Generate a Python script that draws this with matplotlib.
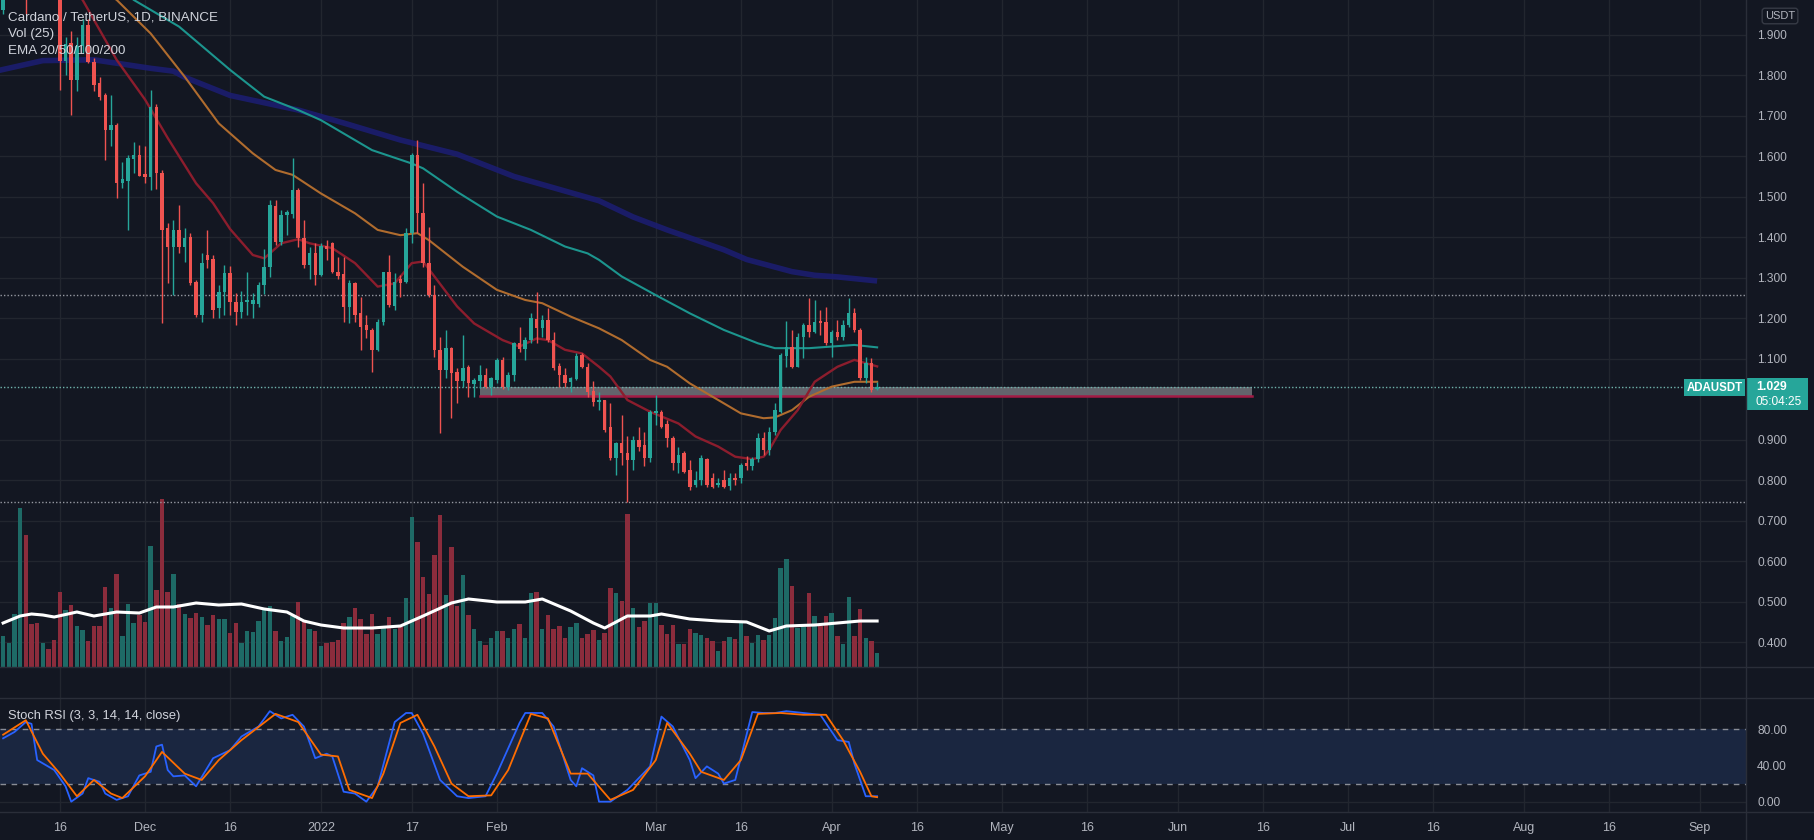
import numpy as np
import pandas as pd
import matplotlib
matplotlib.use("Agg")
import matplotlib.pyplot as plt
import matplotlib.dates as mdates
from matplotlib.patches import Rectangle
from matplotlib.lines import Line2D

plt.rcParams['font.family'] = ['Liberation Sans', 'DejaVu Sans']

# ---------------- data ----------------
first_day = '2021-11-06'
opens = [1.96, 2.00, 2.04, 2.18, 2.27, 2.06, 2.03, 2.00, 2.04, 2.02,
         2.00, 1.836, 1.879, 1.788, 1.871, 1.924, 1.833, 1.78, 1.751, 1.665,
         1.677, 1.533, 1.54, 1.592, 1.603, 1.556, 1.549, 1.722, 1.558, 1.422,
         1.377, 1.419, 1.377, 1.401, 1.29, 1.208, 1.356, 1.345, 1.224, 1.265,
         1.311, 1.241, 1.216, 1.240, 1.236, 1.236, 1.282, 1.327, 1.477, 1.389,
         1.455, 1.458, 1.517, 1.399, 1.331, 1.36, 1.307, 1.379, 1.386, 1.315,
         1.31, 1.228, 1.286, 1.212, 1.183, 1.171, 1.122, 1.191, 1.313, 1.23,
         1.296, 1.29, 1.41, 1.603, 1.459, 1.336, 1.257, 1.121, 1.072, 1.126,
         1.068, 1.044, 1.079, 1.037, 1.044, 1.06, 1.031, 1.048, 1.097, 1.031,
         1.06, 1.138, 1.123, 1.146, 1.197, 1.175, 1.196, 1.146, 1.081, 1.06,
         1.043, 1.049, 1.109, 1.08, 1.02, 0.994, 0.997, 0.932, 0.854, 0.891,
         0.868, 0.85, 0.899, 0.887, 0.854, 0.966, 0.969, 0.94, 0.903, 0.842,
         0.866, 0.825, 0.788, 0.80, 0.852, 0.805, 0.787, 0.80, 0.786, 0.805,
         0.805, 0.842, 0.834, 0.852, 0.903, 0.875, 0.92, 0.969, 1.107, 1.13,
         1.08, 1.154, 1.183, 1.167, 1.194, 1.191, 1.138, 1.167, 1.154, 1.183,
         1.212, 1.171, 1.052, 1.089, 1.025]
highs = [2.02, 2.06, 2.22, 2.30, 2.30, 2.10, 2.06, 2.06, 2.07, 2.08,
         2.03, 1.895, 1.908, 1.895, 1.94, 1.94, 1.842, 1.796, 1.755, 1.75,
         1.681, 1.586, 1.603, 1.636, 1.628, 1.624, 1.763, 1.73, 1.565, 1.434,
         1.442, 1.479, 1.422, 1.41, 1.294, 1.36, 1.418, 1.356, 1.282, 1.331,
         1.329, 1.261, 1.266, 1.315, 1.262, 1.29, 1.372, 1.492, 1.492, 1.466,
         1.466, 1.595, 1.521, 1.442, 1.377, 1.385, 1.385, 1.394, 1.389, 1.352,
         1.352, 1.294, 1.29, 1.253, 1.208, 1.175, 1.198, 1.315, 1.356, 1.311,
         1.307, 1.422, 1.607, 1.64, 1.533, 1.426, 1.282, 1.154, 1.171, 1.13,
         1.076, 1.159, 1.085, 1.052, 1.085, 1.076, 1.056, 1.101, 1.103, 1.066,
         1.142, 1.179, 1.154, 1.212, 1.265, 1.208, 1.224, 1.167, 1.089, 1.076,
         1.056, 1.113, 1.113, 1.089, 1.046, 1.018, 0.998, 0.99, 0.895, 0.961,
         0.908, 0.908, 0.932, 0.92, 0.973, 1.01, 0.973, 0.949, 0.908, 0.883,
         0.873, 0.85, 0.823, 0.862, 0.854, 0.819, 0.805, 0.825, 0.817, 0.817,
         0.842, 0.86, 0.858, 0.916, 0.92, 0.932, 0.99, 1.113, 1.192, 1.171,
         1.163, 1.187, 1.249, 1.245, 1.22, 1.228, 1.171, 1.196, 1.196, 1.249,
         1.224, 1.175, 1.105, 1.101, 1.043]
lows = [1.95, 1.99, 2.02, 2.12, 1.95, 2.00, 1.99, 1.99, 2.00, 1.995,
        1.763, 1.80, 1.702, 1.760, 1.855, 1.83, 1.76, 1.739, 1.591, 1.624,
        1.496, 1.521, 1.418, 1.558, 1.55, 1.533, 1.517, 1.52, 1.187, 1.286,
        1.257, 1.36, 1.34, 1.282, 1.204, 1.191, 1.323, 1.20, 1.20, 1.208,
        1.208, 1.183, 1.20, 1.208, 1.20, 1.228, 1.26, 1.302, 1.381, 1.381,
        1.405, 1.447, 1.377, 1.323, 1.298, 1.282, 1.303, 1.344, 1.311, 1.298,
        1.191, 1.187, 1.191, 1.122, 1.15, 1.068, 1.12, 1.183, 1.228, 1.22,
        1.253, 1.286, 1.385, 1.41, 1.327, 1.253, 1.105, 0.916, 1.052, 0.953,
        0.99, 1.031, 1.006, 1.006, 1.027, 1.027, 1.01, 1.039, 1.024, 1.023,
        1.044, 1.117, 1.097, 1.138, 1.138, 1.154, 1.142, 1.072, 1.031, 1.031,
        1.019, 1.048, 1.076, 1.006, 0.984, 0.973, 0.92, 0.85, 0.813, 0.838,
        0.747, 0.825, 0.871, 0.834, 0.846, 0.936, 0.928, 0.883, 0.825, 0.817,
        0.817, 0.776, 0.784, 0.788, 0.784, 0.78, 0.784, 0.78, 0.776, 0.788,
        0.792, 0.825, 0.825, 0.846, 0.862, 0.862, 0.912, 0.965, 1.08, 1.076,
        1.079, 1.101, 1.154, 1.163, 1.159, 1.134, 1.105, 1.146, 1.146, 1.179,
        1.167, 1.048, 1.039, 1.019, 1.023]
closes = [2.00, 2.04, 2.18, 2.27, 2.00, 2.03, 2.00, 2.04, 2.02, 2.00,
          1.836, 1.877, 1.788, 1.871, 1.924, 1.833, 1.776, 1.747, 1.665, 1.677,
          1.533, 1.543, 1.595, 1.603, 1.551, 1.549, 1.722, 1.558, 1.418, 1.377,
          1.419, 1.377, 1.397, 1.286, 1.208, 1.336, 1.344, 1.22, 1.265, 1.311,
          1.241, 1.216, 1.241, 1.246, 1.246, 1.282, 1.327, 1.48, 1.389, 1.455,
          1.462, 1.516, 1.397, 1.331, 1.36, 1.307, 1.379, 1.371, 1.315, 1.305,
          1.228, 1.286, 1.208, 1.179, 1.171, 1.122, 1.191, 1.313, 1.233, 1.29,
          1.286, 1.41, 1.603, 1.459, 1.336, 1.257, 1.121, 1.072, 1.126, 1.064,
          1.044, 1.076, 1.039, 1.047, 1.06, 1.031, 1.052, 1.097, 1.031, 1.06,
          1.138, 1.123, 1.146, 1.2, 1.175, 1.196, 1.146, 1.076, 1.06, 1.039,
          1.052, 1.107, 1.08, 1.019, 0.992, 0.998, 0.924, 0.854, 0.891, 0.866,
          0.85, 0.899, 0.883, 0.854, 0.969, 0.970, 0.932, 0.903, 0.842, 0.862,
          0.821, 0.784, 0.80, 0.854, 0.788, 0.784, 0.792, 0.784, 0.805, 0.801,
          0.838, 0.834, 0.852, 0.903, 0.875, 0.92, 0.973, 1.109, 1.13, 1.08,
          1.154, 1.183, 1.167, 1.191, 1.188, 1.138, 1.167, 1.154, 1.183, 1.212,
          1.171, 1.052, 1.089, 1.023, 1.029]
volume_m = [155, 120, 265, 795, 660, 215, 220, 120, 90, 135,
            375, 285, 310, 205, 185, 130, 205, 205, 400, 295,
            465, 155, 315, 220, 260, 225, 605, 385, 840, 375,
            465, 315, 265, 245, 270, 250, 210, 260, 240, 240,
            170, 220, 120, 180, 175, 230, 290, 305, 180, 130,
            150, 255, 325, 230, 190, 180, 105, 120, 125, 135,
            220, 250, 295, 240, 165, 265, 165, 205, 250, 190,
            200, 345, 750, 625, 450, 365, 560, 760, 360, 600,
            305, 460, 260, 190, 130, 110, 145, 180, 180, 145,
            190, 215, 145, 370, 375, 190, 260, 190, 205, 145,
            200, 220, 145, 165, 185, 135, 170, 395, 370, 330,
            765, 295, 200, 230, 320, 320, 210, 165, 210, 115,
            115, 190, 170, 160, 145, 130, 80, 130, 150, 140,
            225, 155, 120, 160, 135, 160, 245, 495, 540, 405,
            195, 200, 370, 255, 205, 255, 270, 155, 115, 350,
            155, 290, 145, 130, 70]

# sampled indicator curves (day offsets from 2021-12-01)
ref_day = '2021-12-01'
vol_ma_days = [-25, -22, -20, -18, -16, -12, -9, -5, -1, 2, 5, 9, 13, 17, 21, 25, 28, 31, 35, 40, 45,
               49, 54, 57, 62, 67, 70, 75, 79, 81, 85, 89, 91, 96, 101, 106, 110, 113, 118, 122, 126, 129]
vol_ma_vals = [220, 255, 265, 260, 250, 275, 255, 275, 270, 300, 300, 320, 310, 315, 290, 275, 230, 210,
               195, 195, 205, 255, 320, 340, 325, 325, 340, 280, 220, 195, 255, 255, 265, 240, 230, 225,
               180, 205, 210, 220, 230, 230]

ema20_days = [-12, -11, -5, 0, 4, 9, 12, 15, 19, 21, 22, 24, 27, 29, 33, 37, 41, 44, 47, 49, 51, 55, 58,
              63, 66, 69, 71, 74, 77, 80, 82, 85, 89, 94, 97, 101, 104, 107, 109, 110, 112, 115, 118,
              122, 125, 126, 129]
ema20_vals = [2.00, 1.986, 1.838, 1.74, 1.645, 1.533, 1.484, 1.42, 1.356, 1.348, 1.36, 1.385, 1.395,
              1.385, 1.373, 1.336, 1.278, 1.286, 1.336, 1.34, 1.303, 1.229, 1.187, 1.146, 1.13, 1.15,
              1.146, 1.122, 1.113, 1.08, 1.056, 0.998, 0.969, 0.94, 0.908, 0.883, 0.858, 0.852, 0.858,
              0.875, 0.924, 0.973, 1.043, 1.08, 1.097, 1.093, 1.081]
ema50_days = [-6, -5, 1, 7, 13, 19, 23, 26, 31, 37, 41, 45, 48, 50, 56, 62, 67, 70, 75, 80, 84, 89, 92,
              96, 101, 105, 109, 111, 114, 117, 121, 125, 129]
ema50_vals = [1.995, 1.986, 1.903, 1.796, 1.681, 1.607, 1.566, 1.554, 1.508, 1.459, 1.418, 1.405, 1.41,
              1.393, 1.327, 1.27, 1.245, 1.237, 1.204, 1.175, 1.146, 1.097, 1.08, 1.039, 0.998, 0.965,
              0.953, 0.955, 0.973, 1.006, 1.031, 1.043, 1.043]
ema100_days = [-3, -2, 6, 15, 21, 27, 31, 40, 47, 49, 55, 62, 68, 74, 78, 80, 84, 90, 96, 102, 108, 111,
               117, 125, 129]
ema100_vals = [2.0, 1.986, 1.92, 1.813, 1.747, 1.714, 1.689, 1.615, 1.582, 1.57, 1.512, 1.451, 1.418,
               1.377, 1.36, 1.344, 1.303, 1.257, 1.212, 1.171, 1.138, 1.126, 1.126, 1.134, 1.128]
ema200_days = [-26, -18, -9, 1, 5, 7, 15, 25, 27, 35, 45, 55, 65, 80, 86, 92, 102, 106, 114, 118, 122, 129]
ema200_vals = [1.811, 1.836, 1.838, 1.817, 1.81, 1.795, 1.75, 1.72, 1.714, 1.682, 1.64, 1.605, 1.55,
               1.49, 1.45, 1.418, 1.369, 1.345, 1.315, 1.306, 1.302, 1.292]

stoch_k_days = [-25, -23, -21, -20, -19, -16, -14, -13, -11, -10, -8, -7, -5, -3, -1, 1, 2, 3, 4, 5, 7, 9,
                12, 15, 17, 20, 22, 24, 26, 28, 30, 32, 33, 35, 37, 39, 41, 44, 46, 47, 49, 52, 55, 57,
                60, 62, 66, 67, 70, 72, 75, 76, 77, 79, 80, 82, 85, 89, 91, 93, 96, 97, 99, 101, 102,
                104, 107, 109, 111, 113, 116, 119, 122, 124, 125, 127, 129]
stoch_k_vals = [70, 77, 88, 86, 46, 35, 17, 0, 9, 26, 22, 9, 2, 6, 29, 33, 61, 63, 35, 28, 29, 17, 48,
                57, 72, 83, 100, 92, 96, 83, 48, 53, 50, 11, 9, 0, 17, 88, 98, 98, 75, 24, 6, 4, 6, 31,
                87, 98, 98, 83, 24, 17, 37, 29, 0, 0, 13, 39, 94, 83, 46, 26, 39, 31, 20, 24, 99, 98,
                98, 100, 98, 96, 68, 66, 42, 6, 6]
stoch_d_days = [-25, -21, -18, -15, -12, -9, -6, -4, 0, 3, 7, 10, 13, 17, 23, 27, 31, 34, 36, 40, 42, 45,
                48, 51, 54, 57, 61, 64, 68, 71, 75, 78, 82, 86, 90, 92, 96, 98, 102, 105, 108, 112, 116,
                120, 123, 126, 128, 129]
stoch_d_vals = [74, 90, 53, 31, 6, 24, 9, 4, 28, 55, 31, 24, 46, 68, 97, 88, 52, 50, 13, 4, 31, 87, 96,
                61, 20, 6, 7, 35, 97, 92, 31, 31, 2, 13, 46, 87, 53, 33, 24, 46, 97, 98, 96, 96, 68, 33,
                6, 5]

level_hi = 1.257
level_lo = 0.746
zone_lo, zone_hi = 1.007, 1.029
zone_start, zone_end = '2022-01-29', '2022-06-14'
last_price = '1.029'
countdown = '05:04:25'

tick_dates = ['2021-11-16', '2021-12-01', '2021-12-16', '2022-01-01', '2022-01-17', '2022-02-01',
              '2022-03-01', '2022-03-16', '2022-04-01', '2022-04-16', '2022-05-01', '2022-05-16',
              '2022-06-01', '2022-06-16', '2022-07-01', '2022-07-16', '2022-08-01', '2022-08-16',
              '2022-09-01']
tick_labels = ['16', 'Dec', '16', '2022', '17', 'Feb', 'Mar', '16', 'Apr', '16', 'May', '16', 'Jun',
               '16', 'Jul', '16', 'Aug', '16', 'Sep']
price_ticks = [0.4, 0.5, 0.6, 0.7, 0.8, 0.9, 1.1, 1.2, 1.3, 1.4, 1.5, 1.6, 1.7, 1.8, 1.9]
stoch_ticks = [0, 40, 80]

# ---------------- style ----------------
BG = '#131722'
GRID = '#22262f'
SEP = '#2a2e39'
TXT = '#b2b5be'
UP = '#26a69a'
DN = '#ef5350'
VUP = '#1e6a66'
VDN = '#8b2c3c'

W, H = 1814, 840
fig = plt.figure(figsize=(W / 100, H / 100), dpi=100, facecolor=BG)


def fx(px):
    return px / W


def fy(py):
    return 1 - py / H


dates = pd.date_range(first_day, periods=len(opens), freq='D')
x = mdates.date2num(dates)
base = mdates.date2num(pd.Timestamp(ref_day))
xlim = (base - 25.55, base + 282.1)

O = np.array(opens); Hh = np.array(highs); L = np.array(lows); C = np.array(closes)
up = C >= O
ccol = np.where(up, UP, DN)
vcol = np.where(up, VUP, VDN)

main_rect = [0, fy(667), fx(1746), 667 / H]
stoch_rect = [0, fy(812), fx(1746), (812 - 668) / H]
tick_x = mdates.date2num(pd.to_datetime(tick_dates))

# background / grid axes for price pane
axg = fig.add_axes(main_rect, facecolor=BG)
axg.set_xlim(*xlim)
axg.set_ylim(0.33877, 1.98568)
for t in price_ticks:
    axg.axhline(t, color=GRID, lw=1, zorder=0)
for t in tick_x:
    axg.axvline(t, color=GRID, lw=1, zorder=0)
axg.yaxis.tick_right()
axg.set_yticks(price_ticks)
axg.set_yticklabels([f'{t:.3f}' for t in price_ticks])
axg.tick_params(axis='y', length=0, pad=8, labelsize=8.6, labelcolor=TXT)
axg.set_xticks([])
for s in axg.spines.values():
    s.set_visible(False)

# volume axes
axv = fig.add_axes(main_rect)
axv.patch.set_visible(False)
axv.set_xlim(*xlim)
axv.set_ylim(0, 3335)
axv.bar(x, volume_m, width=0.78, color=vcol, linewidth=0)
vx = base + np.array(vol_ma_days)
axv.plot(vx, vol_ma_vals, color='white', lw=2.2, solid_joinstyle='round')
axv.axis('off')

# price axes
ax = fig.add_axes(main_rect)
ax.patch.set_visible(False)
ax.set_xlim(*xlim)
ax.set_ylim(0.33877, 1.98568)
ax.axis('off')

z0 = mdates.date2num(pd.Timestamp(zone_start))
z1 = mdates.date2num(pd.Timestamp(zone_end))
ax.add_patch(Rectangle((z0, zone_lo), z1 - z0, zone_hi - zone_lo, facecolor='#63646c',
                       edgecolor='none', zorder=1))
ax.plot([z0, z1], [zone_lo, zone_lo], color='#a31a45', lw=1.8, zorder=1.1)

ax.axhline(level_hi, color='#9598a1', lw=1, ls=(0, (1, 1.5)), zorder=1)
ax.axhline(level_lo, color='#9598a1', lw=1, ls=(0, (1, 1.5)), zorder=1)
ax.axhline(float(last_price), color='#6fb3ac', lw=1, ls=(0, (1, 1.5)), zorder=1.2)

ax.plot(base + np.array(ema200_days), ema200_vals, color='#1c1d74', lw=4, alpha=0.85, zorder=2,
        solid_capstyle='butt')
ax.plot(base + np.array(ema100_days), ema100_vals, color='#1c958e', lw=1.5, zorder=2.1)
ax.plot(base + np.array(ema50_days), ema50_vals, color='#b06c2e', lw=1.5, zorder=2.1)
ax.plot(base + np.array(ema20_days), ema20_vals, color='#8c1d2d', lw=1.7, zorder=2.1)

ax.vlines(x, L, Hh, colors=ccol, lw=1, zorder=3)
body_lo = np.minimum(O, C)
body_h = np.maximum(np.abs(C - O), 0.003)
ax.bar(x, body_h, bottom=body_lo, width=0.62, color=ccol, linewidth=0, zorder=3.1)

# ---------------- stoch pane ----------------
axs = fig.add_axes(stoch_rect, facecolor=BG)
axs.set_xlim(*xlim)
axs.set_ylim(-11.4, 147.7)
for t in stoch_ticks:
    axs.axhline(t, color=GRID, lw=1, zorder=0)
for t in tick_x:
    axs.axvline(t, color=GRID, lw=1, zorder=0)
axs.axhspan(20, 80, color='#1a2640', lw=0, zorder=0.5)
axs.axhline(80, color='#8a8d96', lw=1, ls=(0, (4, 4)), zorder=1)
axs.axhline(20, color='#8a8d96', lw=1, ls=(0, (4, 4)), zorder=1)
axs.plot(base + np.array(stoch_k_days), stoch_k_vals, color='#2962ff', lw=1.3, zorder=2)
axs.plot(base + np.array(stoch_d_days), stoch_d_vals, color='#ff6d00', lw=1.3, zorder=2.1)
axs.yaxis.tick_right()
axs.set_yticks(stoch_ticks)
axs.set_yticklabels([f'{t:.2f}' for t in stoch_ticks])
axs.tick_params(axis='y', length=0, pad=8, labelsize=8.6, labelcolor=TXT)
axs.set_xticks(tick_x)
axs.set_xticklabels(tick_labels)
axs.tick_params(axis='x', length=0, pad=7, labelsize=9, labelcolor=TXT)
for s in axs.spines.values():
    s.set_visible(False)

# ---------------- frame lines ----------------
for py in (667, 698, 812):
    fig.add_artist(Line2D([0, 1], [fy(py), fy(py)], color=SEP, lw=1))
fig.add_artist(Line2D([fx(1746), fx(1746)], [0, 1], color=SEP, lw=1))

# ---------------- texts ----------------
fig.text(fx(8), fy(17), 'Cardano / TetherUS, 1D, BINANCE', color='#d1d4dc', fontsize=9.6, va='center')
fig.text(fx(8), fy(34), 'Vol (25)', color='#d1d4dc', fontsize=9.6, va='center')
fig.text(fx(8), fy(51), 'EMA 20/50/100/200', color='#d1d4dc', fontsize=9.6, va='center')
fig.text(fx(8), fy(716), 'Stoch RSI (3, 3, 14, 14, close)', color='#d1d4dc', fontsize=9.3, va='center')

fig.text(fx(1780), fy(16), 'USDT', color=TXT, fontsize=8, ha='center', va='center',
         bbox=dict(boxstyle='round,pad=0.25', fc=BG, ec='#363a45', lw=1))

fig.add_artist(Rectangle((fx(1684), fy(396)), fx(61), 17 / H, transform=fig.transFigure,
                         facecolor=UP, edgecolor='none'))
fig.text(fx(1714.5), fy(388), 'ADAUSDT', color='white', fontsize=8.3, fontweight='bold',
         ha='center', va='center')
fig.add_artist(Rectangle((fx(1746), fy(410)), fx(62), 32 / H, transform=fig.transFigure,
                         facecolor=UP, edgecolor='none'))
fig.text(fx(1756), fy(387), last_price, color='white', fontsize=8.8, fontweight='bold', va='center')
fig.text(fx(1756), fy(402), countdown, color='white', fontsize=8.6, va='center')

fig.savefig('out.png', dpi=100, facecolor=BG)
